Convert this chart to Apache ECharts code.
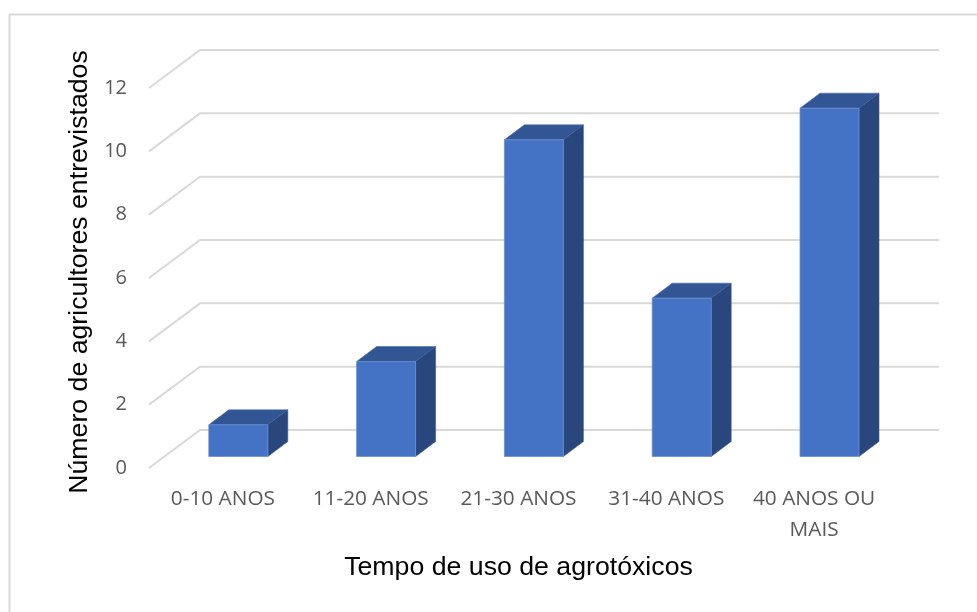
<!DOCTYPE html>
<html>
<head>
<meta charset="utf-8">
<style>html,body{margin:0;padding:0;background:#fff}#chart{width:977px;height:612px}</style>
<script src="https://cdn.jsdelivr.net/npm/echarts@6/dist/echarts.min.js"></script>
</head>
<body>
<div id="chart"></div>
<script>
const categories = ['0-10 ANOS', '11-20 ANOS', '21-30 ANOS', '31-40 ANOS', '40 ANOS OU\nMAIS'];
const values = [1, 3, 10, 5, 11];
const yTicks = [0, 2, 4, 6, 8, 10, 12];

// Depth of the simulated 3D box: floor depth and where the columns stand on it
const FLOOR_DX = 51, FLOOR_DY = -38;
const COL_DX = 15.4, COL_DY = -11.5;
const BOX_DX = 20, BOX_DY = -15;
const COL_WIDTH = 59;

const GRID_COLOR = '#d9d9d9';

function renderWall(params, api) {
  const v = api.value(0);
  const left = api.coord([0, v]);
  const x0 = params.coordSys.x;
  const x1 = params.coordSys.x + params.coordSys.width;
  const y = left[1];
  const style = { stroke: GRID_COLOR, lineWidth: 2, fill: null };
  return {
    type: 'polyline',
    silent: true,
    shape: { points: [[x0, y], [x0 + FLOOR_DX, y + FLOOR_DY], [x1 + FLOOR_DX, y + FLOOR_DY]] },
    style
  };
}

function renderColumn(params, api) {
  const top = api.coord([api.value(0), api.value(1)]);
  const base = api.coord([api.value(0), 0]);
  const xl = top[0] + COL_DX - COL_WIDTH / 2;
  const xr = xl + COL_WIDTH;
  const yt = top[1] + COL_DY;
  const yb = base[1] + COL_DY;
  return {
    type: 'group',
    children: [
      {
        type: 'polygon',
        shape: { points: [[xl, yt], [xl + BOX_DX, yt + BOX_DY], [xr + BOX_DX, yt + BOX_DY], [xr, yt]] },
        style: { fill: '#325593', stroke: '#4a6ca8', lineWidth: 0.6 }
      },
      {
        type: 'polygon',
        shape: { points: [[xr, yt], [xr + BOX_DX, yt + BOX_DY], [xr + BOX_DX, yb + BOX_DY], [xr, yb]] },
        style: { fill: '#29477c', stroke: '#3c5a90', lineWidth: 0.6 }
      },
      {
        type: 'rect',
        shape: { x: xl, y: yt, width: COL_WIDTH, height: yb - yt },
        style: { fill: '#4472c4', stroke: '#6a8fd0', lineWidth: 0.8 }
      }
    ]
  };
}

const chart = echarts.init(document.getElementById('chart'), null, { renderer: 'canvas' });
chart.setOption({
  animation: false,
  backgroundColor: '#ffffff',
  grid: { left: 149, top: 88, width: 739, height: 380, containLabel: false },
  xAxis: {
    type: 'category',
    data: categories,
    axisLine: { show: false },
    axisTick: { show: false },
    axisLabel: {
      color: '#595959',
      fontFamily: 'Open Sans',
      fontSize: 20.8,
      lineHeight: 31,
      margin: 16,
      interval: 0
    },
    name: 'Tempo de uso de agrotóxicos',
    nameLocation: 'middle',
    nameGap: 86,
    nameTextStyle: { color: '#000000', fontFamily: 'Liberation Sans', fontSize: 26.7 }
  },
  yAxis: {
    type: 'value',
    min: 0,
    max: 12,
    interval: 2,
    splitLine: { show: false },
    axisLine: { show: false },
    axisTick: { show: false },
    axisLabel: { color: '#595959', fontFamily: 'Open Sans', fontSize: 20, margin: 22, padding: [5, 0, 0, 0] },
    name: 'Número de agricultores entrevistados',
    nameLocation: 'middle',
    nameGap: 54,
    nameRotate: 90,
    nameTextStyle: { color: '#000000', fontFamily: 'Liberation Sans', fontSize: 26.7, padding: [0, 0, 0, 12] }
  },
  graphic: [
    {
      type: 'polyline',
      silent: true,
      shape: { points: [[9.5, 612], [9.5, 14.5], [977, 14.5]] },
      style: { stroke: GRID_COLOR, lineWidth: 2, fill: null }
    }
  ],
  series: [
    {
      type: 'custom',
      name: 'grade',
      coordinateSystem: 'cartesian2d',
      clip: false,
      silent: true,
      z: 1,
      data: yTicks.map(t => [t]),
      encode: { y: 0 },
      renderItem: renderWall
    },
    {
      type: 'custom',
      name: 'agricultores',
      coordinateSystem: 'cartesian2d',
      clip: false,
      z: 2,
      data: values.map((v, i) => [i, v]),
      encode: { x: 0, y: 1 },
      renderItem: renderColumn
    }
  ]
});
</script>
</body>
</html>
